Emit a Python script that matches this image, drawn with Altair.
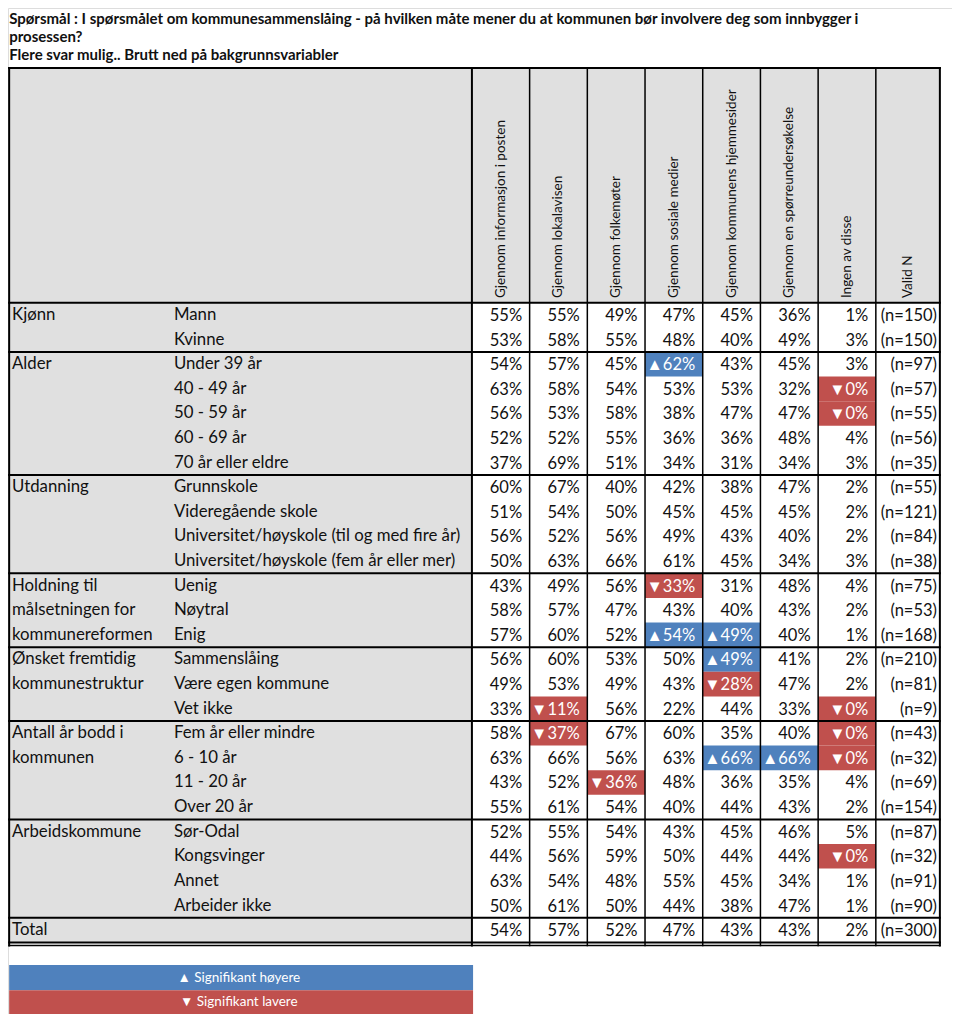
import altair as alt
import pandas as pd

FONT = "Lato"

title_lines = [
    "Spørsmål : I spørsmålet om kommunesammenslåing - på hvilken måte mener du at kommunen bør involvere deg som innbygger i",
    "prosessen?",
    "Flere svar mulig.. Brutt ned på bakgrunnsvariabler",
]

columns = [
    "Gjennom informasjon i posten",
    "Gjennom lokalavisen",
    "Gjennom folkemøter",
    "Gjennom sosiale medier",
    "Gjennom kommunens hjemmesider",
    "Gjennom en spørreundersøkelse",
    "Ingen av disse",
    "Valid N",
]

group_names = [
    ["Kjønn"],
    ["Alder"],
    ["Utdanning"],
    ["Holdning til", "målsetningen for", "kommunereformen"],
    ["Ønsket fremtidig", "kommunestruktur"],
    ["Antall år bodd i", "kommunen"],
    ["Arbeidskommune"],
    ["Total"],
]

group_rows = [
    ["Mann", "Kvinne"],
    ["Under 39 år", "40 - 49 år", "50 - 59 år", "60 - 69 år", "70 år eller eldre"],
    ["Grunnskole", "Videregående skole", "Universitet/høyskole (til og med fire år)",
     "Universitet/høyskole (fem år eller mer)"],
    ["Uenig", "Nøytral", "Enig"],
    ["Sammenslåing", "Være egen kommune", "Vet ikke"],
    ["Fem år eller mindre", "6 - 10 år", "11 - 20 år", "Over 20 år"],
    ["Sør-Odal", "Kongsvinger", "Annet", "Arbeider ikke"],
    [""],
]

values = [
    [55, 55, 49, 47, 45, 36, 1],
    [53, 58, 55, 48, 40, 49, 3],
    [54, 57, 45, 62, 43, 45, 3],
    [63, 58, 54, 53, 53, 32, 0],
    [56, 53, 58, 38, 47, 47, 0],
    [52, 52, 55, 36, 36, 48, 4],
    [37, 69, 51, 34, 31, 34, 3],
    [60, 67, 40, 42, 38, 47, 2],
    [51, 54, 50, 45, 45, 45, 2],
    [56, 52, 56, 49, 43, 40, 2],
    [50, 63, 66, 61, 45, 34, 3],
    [43, 49, 56, 33, 31, 48, 4],
    [58, 57, 47, 43, 40, 43, 2],
    [57, 60, 52, 54, 49, 40, 1],
    [56, 60, 53, 50, 49, 41, 2],
    [49, 53, 49, 43, 28, 47, 2],
    [33, 11, 56, 22, 44, 33, 0],
    [58, 37, 67, 60, 35, 40, 0],
    [63, 66, 56, 63, 66, 66, 0],
    [43, 52, 36, 48, 36, 35, 4],
    [55, 61, 54, 40, 44, 43, 2],
    [52, 55, 54, 43, 45, 46, 5],
    [44, 56, 59, 50, 44, 44, 0],
    [63, 54, 48, 55, 45, 34, 1],
    [50, 61, 50, 44, 38, 47, 1],
    [54, 57, 52, 47, 43, 43, 2],
]

valid_n = [150, 150, 97, 57, 55, 56, 35, 55, 121, 84, 38, 75, 53, 168,
           210, 81, 9, 43, 32, 69, 154, 87, 32, 91, 90, 300]

# (row, column, +1 significantly higher / -1 significantly lower)
significance = [
    (2, 3, 1), (3, 6, -1), (4, 6, -1),
    (11, 3, -1), (13, 3, 1), (13, 4, 1),
    (14, 4, 1), (15, 4, -1), (16, 1, -1), (16, 6, -1),
    (17, 1, -1), (17, 6, -1), (18, 4, 1), (18, 5, 1), (18, 6, -1),
    (19, 2, -1), (22, 6, -1),
]

legend_labels = ["▲ Signifikant høyere", "▼ Signifikant lavere"]

BLUE = "#4f81bd"
RED = "#c0504d"
GREY = "#e0e0e0"
INK = "#111111"

# ---- layout (x in column units, y in row units) ----
W, H = 944, 1006
col_edges = [0, 1, 2, 3, 4, 5, 6, 7, 8.11]
X_LEFT = -8.02
X_DOM = [-8.04, 8.32]
Y_DOM = [-12.48, 28.41]
HDR_TOP = -10.04
HDR_BOT = -0.5
n_rows = len(values)
TBL_BOT = n_rows - 0.5
LEG_Y = [26.42, 27.44, 28.41]

xs = alt.Scale(domain=X_DOM, nice=False, zero=False)
ys = alt.Scale(domain=Y_DOM, nice=False, zero=False, reverse=True)

# ---------- rectangles ----------
rects = [
    dict(x=X_LEFT, x2=0, y=HDR_TOP, y2=TBL_BOT, c=GREY),
    dict(x=0, x2=col_edges[-1], y=HDR_TOP, y2=HDR_BOT, c=GREY),
]
for r, c, d in significance:
    rects.append(dict(x=col_edges[c], x2=col_edges[c + 1], y=r - 0.5, y2=r + 0.5,
                      c=BLUE if d > 0 else RED))
rects.append(dict(x=X_LEFT, x2=0.02, y=LEG_Y[0], y2=LEG_Y[1], c=BLUE))
rects.append(dict(x=X_LEFT, x2=0.02, y=LEG_Y[1], y2=LEG_Y[2], c=RED))
rect_df = pd.DataFrame(rects)

rect_layer = alt.Chart(rect_df).mark_rect(strokeWidth=0).encode(
    x=alt.X("x:Q", scale=xs, axis=None),
    x2="x2:Q",
    y=alt.Y("y:Q", scale=ys, axis=None),
    y2="y2:Q",
    color=alt.Color("c:N", scale=None),
)

# ---------- lines ----------
segs = []
group_bounds = []
acc = 0
for rows in group_rows:
    acc += len(rows)
    group_bounds.append(acc - 0.5)
for yb in [HDR_TOP, HDR_BOT] + group_bounds:
    segs.append(dict(x=X_LEFT, x2=col_edges[-1], y=yb, y2=yb, w=2.0))
segs.append(dict(x=X_LEFT, x2=col_edges[-1], y=TBL_BOT + 0.13, y2=TBL_BOT + 0.13, w=1.5))
for xe in [X_LEFT] + col_edges:
    segs.append(dict(x=xe, x2=xe, y=HDR_TOP, y2=TBL_BOT + 0.13,
                     w=2.0 if xe in (X_LEFT, 0, col_edges[-1]) else 1.5))
seg_df = pd.DataFrame(segs)

line_layer = alt.Chart(seg_df).mark_rule(color="#000000", strokeCap="square").encode(
    x=alt.X("x:Q", scale=xs, axis=None),
    x2="x2:Q",
    y=alt.Y("y:Q", scale=ys, axis=None),
    y2="y2:Q",
    strokeWidth=alt.StrokeWidth("w:Q", scale=None),
)

# ---------- texts ----------
left_txt = []
r0 = 0
for names, rows in zip(group_names, group_rows):
    for i, nm in enumerate(names):
        left_txt.append(dict(x=-7.97, y=r0 + i, t=nm))
    for i, sub in enumerate(rows):
        if sub:
            left_txt.append(dict(x=-5.165, y=r0 + i, t=sub))
    r0 += len(rows)
left_df = pd.DataFrame(left_txt)

left_layer = alt.Chart(left_df).mark_text(
    align="left", baseline="middle", font=FONT, fontSize=16.8, color=INK
).encode(
    x=alt.X("x:Q", scale=xs, axis=None),
    y=alt.Y("y:Q", scale=ys, axis=None),
    text="t:N",
)

val_txt = []
sig_lookup = {(r, c): d for r, c, d in significance}
for r, row in enumerate(values):
    for c, v in enumerate(row):
        d = sig_lookup.get((r, c), 0)
        prefix = "▲" if d > 0 else ("▼" if d < 0 else "")
        val_txt.append(dict(x=col_edges[c + 1] - 0.13, y=r, t=f"{prefix}{v}%",
                            col="#ffffff" if d else INK))
    val_txt.append(dict(x=col_edges[-1] - 0.05, y=r, t=f"(n={valid_n[r]})", col=INK))
val_df = pd.DataFrame(val_txt)

val_layer = alt.Chart(val_df).mark_text(
    align="right", baseline="middle", font=FONT, fontSize=16.5, dy=1
).encode(
    x=alt.X("x:Q", scale=xs, axis=None),
    y=alt.Y("y:Q", scale=ys, axis=None),
    text="t:N",
    color=alt.Color("col:N", scale=None),
)

hdr_df = pd.DataFrame(dict(
    x=[(col_edges[i] + col_edges[i + 1]) / 2 for i in range(len(columns))],
    y=[-0.69] * len(columns),
    t=columns,
))
hdr_layer = alt.Chart(hdr_df).mark_text(
    align="left", baseline="middle", angle=270, font=FONT, fontSize=13.5, color=INK
).encode(
    x=alt.X("x:Q", scale=xs, axis=None),
    y=alt.Y("y:Q", scale=ys, axis=None),
    text="t:N",
)

title_df = pd.DataFrame(dict(x=[X_LEFT] * 3, y=[-12.05, -11.30, -10.55], t=title_lines))
title_layer = alt.Chart(title_df).mark_text(
    align="left", baseline="middle", font=FONT, fontSize=15, fontWeight="bold", color=INK
).encode(
    x=alt.X("x:Q", scale=xs, axis=None),
    y=alt.Y("y:Q", scale=ys, axis=None),
    text="t:N",
)

leg_df = pd.DataFrame(dict(x=[-4.04, -4.04],
                           y=[(LEG_Y[0] + LEG_Y[1]) / 2, (LEG_Y[1] + LEG_Y[2]) / 2],
                           t=legend_labels))
leg_layer = alt.Chart(leg_df).mark_text(
    align="center", baseline="middle", font=FONT, fontSize=13.5, color="#ffffff"
).encode(
    x=alt.X("x:Q", scale=xs, axis=None),
    y=alt.Y("y:Q", scale=ys, axis=None),
    text="t:N",
)

chart = alt.layer(
    rect_layer, line_layer, left_layer, val_layer, hdr_layer, title_layer, leg_layer
).properties(
    width=W, height=H, padding=0, autosize=alt.AutoSizeParams(type="none")
).configure_view(stroke=None).configure(background="#ffffff")

chart.save("out.html", embed_options={"renderer": "svg", "actions": False})
